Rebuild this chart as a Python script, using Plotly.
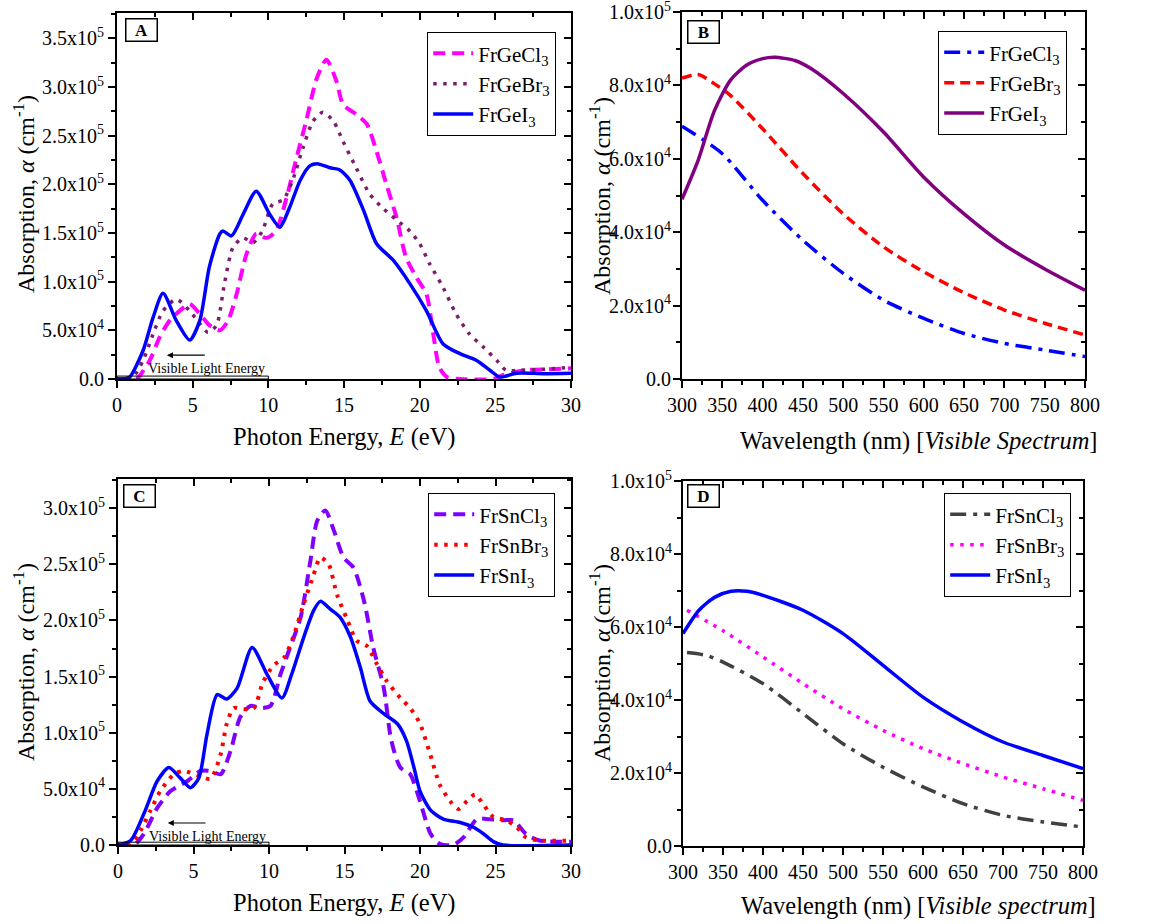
import plotly.graph_objects as go

# ---------------- Panel A : Fr-Ge halides, absorption vs photon energy ----------------
A_E_GeCl3 = [0, 1.0, 1.3, 2.16, 2.82, 3.48, 4.14, 4.8, 5.47, 6.13, 6.8, 7.34, 7.9, 8.55, 9.2, 9.87, 10.5,
             11.2, 11.86, 12.5, 13.2, 13.84, 14.5, 14.94, 15.8, 16.5, 17.15, 17.8, 18.47, 19.1, 19.8,
             20.45, 20.9, 21.3, 21.8, 22.66, 24.9, 25.5, 27.0, 28.5, 30.0]
A_GeCl3 = [0, 0, 0, 19, 43, 60, 70, 77, 67, 55, 50, 60, 87, 128, 149, 145, 152,
           186, 227, 265, 309, 328, 306, 282, 272, 262, 234, 200, 166, 125, 104,
           87, 46, 12, 2, 0, 0, 4, 9, 10, 11]

A_E_GeBr3 = [0, 0.6, 1.06, 1.72, 2.38, 3.04, 3.92, 4.8, 5.47, 6.0, 6.57, 7.1, 7.66, 8.33, 8.99, 9.6,
             10.3, 10.98, 11.6, 12.3, 12.96, 13.6, 14.3, 14.94, 15.8, 16.7, 17.6, 18.5, 19.35, 20.0,
             20.67, 21.55, 22.4, 23.3, 24.2, 25.1, 25.7, 26.6, 28.2, 30.0]
A_GeBr3 = [0, 0, 2, 19, 46, 70, 82, 70, 57, 48, 55, 98, 135, 145, 140, 152,
           180, 184, 204, 238, 265, 274, 265, 244, 217, 190, 175, 163, 152, 139,
           118, 94, 67, 46, 33, 19, 9, 9, 10, 12]

A_E_GeI3 = [0, 0.5, 0.84, 1.72, 2.38, 3.04, 3.92, 4.8, 5.47, 6.1, 6.79, 7.0, 7.56, 8.33, 9.2, 10.1,
            10.76, 11.4, 12.1, 12.74, 13.3, 14.06, 14.7, 15.4, 16.3, 17.15, 18.25, 19.35, 20.45,
            21.55, 22.66, 23.76, 24.64, 25.3, 26.4, 28.2, 30.0]
A_GeI3 = [0, 0.3, 2, 29, 63, 88, 60, 40, 60, 115, 149, 152, 147, 169, 193, 169,
          156, 176, 204, 219, 221, 217, 215, 204, 173, 139, 122, 98, 70,
          36, 26, 19, 9, 2, 6, 5.5, 6]

# ---------------- Panel B : Fr-Ge halides, visible spectrum ----------------
B_WL_GeCl3 = [300, 350, 400, 450, 500, 550, 600, 650, 700, 750, 800]
B_GeCl3 = [68.9, 61.4, 48.7, 37.8, 28.8, 21.5, 16.5, 12.4, 9.7, 7.9, 6.1]
B_WL_GeBr3 = [300, 320, 340, 360, 400, 450, 500, 550, 600, 650, 700, 750, 800]
B_GeBr3 = [82, 83, 80.5, 77.3, 68.2, 56, 45, 36, 29.2, 23.5, 18.8, 15.2, 12]
B_WL_GeI3 = [300, 320, 340, 360, 380, 400, 415, 440, 460, 500, 550, 600, 650, 700, 750, 800]
B_GeI3 = [49, 59.6, 73, 81.4, 85.5, 87.3, 87.7, 86.8, 84.6, 77.8, 67.3, 55, 45, 36.5, 30, 24.2]

# ---------------- Panel C : Fr-Sn halides, absorption vs photon energy ----------------
C_E_SnCl3 = [0, 1.06, 1.72, 2.6, 3.48, 4.6, 5.47, 6.13, 6.8, 7.46, 8.1, 8.77, 9.43, 10.1, 10.76,
             11.4, 12.1, 12.74, 13.2, 13.73, 14.3, 14.94, 15.6, 16.3, 16.9, 17.6, 18.1, 18.7,
             19.35, 20.0, 20.7, 21.3, 22.2, 22.9, 23.76, 24.6, 25.5, 26.2, 27.0, 27.9, 30.0]
C_SnCl3 = [0, 0, 10, 33, 48, 57, 66, 66, 63, 84, 114, 124, 122, 124, 152,
           176, 203, 253, 289, 298, 280, 256, 247, 217, 176, 140, 93, 69,
           63, 39, 10, 1, 0, 7, 23, 23, 22, 22, 10, 4, 3]

C_E_SnBr3 = [0, 0.84, 1.5, 2.16, 2.8, 3.7, 4.36, 5.25, 6.13, 6.8, 7.2, 7.66, 8.33, 9.0, 9.6, 10.3,
             11.0, 11.6, 12.3, 12.96, 13.4, 13.95, 14.5, 15.2, 15.8, 16.5, 17.15, 17.8, 18.7,
             19.35, 20.0, 20.67, 21.3, 22.0, 22.55, 23.1, 23.65, 24.2, 24.86, 25.7, 26.4, 27.0,
             27.9, 30.0]
C_SnBr3 = [0, 0, 13, 31, 48, 63, 66, 62, 59, 81, 108, 122, 121, 122, 145, 160,
           167, 185, 215, 241, 256, 250, 223, 200, 182, 177, 161, 146, 131,
           122, 108, 81, 54, 39, 32, 39, 45, 36, 25, 22, 16, 7,
           4, 4]

C_E_SnI3 = [0, 0.84, 1.72, 2.6, 3.37, 4.1, 4.8, 5.36, 5.9, 6.57, 7.2, 7.9, 8.88, 9.87, 10.86, 11.5,
            12.3, 12.96, 13.4, 14.06, 14.7, 15.4, 16.05, 16.7, 17.6, 18.5, 19.1, 19.6, 20.0, 20.7,
            21.55, 22.66, 23.5, 24.2, 24.86, 25.5, 30.0]
C_SnI3 = [0, 4, 28, 57, 69, 60, 51, 60, 99, 134, 130, 140, 176, 152, 131, 152,
          185, 209, 217, 210, 203, 185, 158, 128, 117, 108, 93, 69, 48, 31,
          23, 20, 16, 10, 3, 0, 0]

# ---------------- Panel D : Fr-Sn halides, visible spectrum ----------------
D_WL_SnCl3 = [305, 330, 350, 400, 450, 500, 550, 600, 650, 700, 750, 800]
D_SnCl3 = [53, 52.2, 50.4, 44.5, 36.3, 28, 21.6, 16.2, 11.6, 8.4, 6.6, 5.2]
D_WL_SnBr3 = [305, 350, 400, 450, 500, 550, 600, 650, 700, 750, 800]
D_SnBr3 = [64.6, 59, 51.8, 44.5, 37.6, 31.7, 26.7, 22.6, 18.9, 15.7, 12.5]
D_WL_SnI3 = [300, 320, 340, 360, 380, 400, 450, 500, 550, 600, 650, 700, 750, 800]
D_SnI3 = [58.2, 64.6, 68.2, 69.8, 69.8, 68.7, 64.6, 58.2, 49.5, 40.8, 34, 28.5, 24.8, 21.2]

# ---------------- tick labels ----------------
A_YTICKS = [0, 5e4, 1e5, 1.5e5, 2e5, 2.5e5, 3e5, 3.5e5]
A_YLABELS = ["0.0", "5.0x10<sup>4</sup>", "1.0x10<sup>5</sup>", "1.5x10<sup>5</sup>",
             "2.0x10<sup>5</sup>", "2.5x10<sup>5</sup>", "3.0x10<sup>5</sup>", "3.5x10<sup>5</sup>"]
C_YTICKS = [0, 5e4, 1e5, 1.5e5, 2e5, 2.5e5, 3e5]
C_YLABELS = A_YLABELS[:7]
BD_YTICKS = [0, 2e4, 4e4, 6e4, 8e4, 1e5]
BD_YLABELS = ["0.0", "2.0x10<sup>4</sup>", "4.0x10<sup>4</sup>", "6.0x10<sup>4</sup>",
              "8.0x10<sup>4</sup>", "1.0x10<sup>5</sup>"]

FONT = "Liberation Serif"
W, H = 1172, 924
K = 1e3

fig = go.Figure()


def add(x, y, name, color, dash, width, xa, ya, legend):
    fig.add_trace(go.Scatter(
        x=x, y=[v * K for v in y], name=name, mode="lines",
        line=dict(color=color, dash=dash, width=width, shape="spline", smoothing=0.7),
        xaxis=xa, yaxis=ya, legend=legend))


DASH = "12px,7px"
DOT = "3.5px,6.5px"
DASHDOT = "16px,7px,4px,7px"

add(A_E_GeCl3, A_GeCl3, "FrGeCl<sub>3</sub>", "#FF00FF", DASH, 4, "x", "y", "legend")
add(A_E_GeBr3, A_GeBr3, "FrGeBr<sub>3</sub>", "#7A1E6C", DOT, 3.5, "x", "y", "legend")
add(A_E_GeI3, A_GeI3, "FrGeI<sub>3</sub>", "#0000FF", "solid", 3.5, "x", "y", "legend")

add(B_WL_GeCl3, B_GeCl3, "FrGeCl<sub>3</sub>", "#0000FF", DASHDOT, 3.5, "x2", "y2", "legend2")
add(B_WL_GeBr3, B_GeBr3, "FrGeBr<sub>3</sub>", "#FF0000", "10px,6px", 3.5, "x2", "y2", "legend2")
add(B_WL_GeI3, B_GeI3, "FrGeI<sub>3</sub>", "#800080", "solid", 3.5, "x2", "y2", "legend2")

add(C_E_SnCl3, C_SnCl3, "FrSnCl<sub>3</sub>", "#7F00FF", DASH, 4, "x3", "y3", "legend3")
add(C_E_SnBr3, C_SnBr3, "FrSnBr<sub>3</sub>", "#FF0000", DOT, 4, "x3", "y3", "legend3")
add(C_E_SnI3, C_SnI3, "FrSnI<sub>3</sub>", "#0000FF", "solid", 3.5, "x3", "y3", "legend3")

add(D_WL_SnCl3, D_SnCl3, "FrSnCl<sub>3</sub>", "#404040", DASHDOT, 3.5, "x4", "y4", "legend4")
add(D_WL_SnBr3, D_SnBr3, "FrSnBr<sub>3</sub>", "#FF00FF", DOT, 3.5, "x4", "y4", "legend4")
add(D_WL_SnI3, D_SnI3, "FrSnI<sub>3</sub>", "#0000FF", "solid", 3.5, "x4", "y4", "legend4")

# dummy traces for mirrored (top/right) axes
for i in range(5, 9):
    fig.add_trace(go.Scatter(x=[], y=[], xaxis=f"x{i}", yaxis=f"y{i}",
                             showlegend=False, hoverinfo="skip"))

panels = [
    # xdomain, ydomain, xrange, xdtick, xminor, yrange, ytickvals, yticktext, yminor, ylabel standoff
    ([117 / W, 571 / W], [1 - 379 / H, 1 - 13 / H], [0, 30], 5, 2.5, [0, 3.76e5], A_YTICKS, A_YLABELS, 2.5e4, 0),
    ([682 / W, 1085 / W], [1 - 379 / H, 1 - 12 / H], [300, 800], 50, 25, [0, 1.0002e5], BD_YTICKS, BD_YLABELS, 1e4, -2),
    ([118 / W, 571 / W], [1 - 845 / H, 1 - 479 / H], [0, 30], 5, 2.5, [0, 3.26e5], C_YTICKS, C_YLABELS, 2.5e4, 0),
    ([683 / W, 1083 / W], [1 - 846 / H, 1 - 481 / H], [300, 800], 50, 25, [0, 1.0002e5], BD_YTICKS, BD_YLABELS, 1e4, -2),
]

tickfont = dict(family=FONT, size=20, color="black")
lay = {}
for i, (xd, yd, xr, xdt, xmn, yr, ytv, ytt, ymn, ystand) in enumerate(panels, start=1):
    s = "" if i == 1 else str(i)
    lay[f"xaxis{s}"] = dict(domain=xd, range=xr, anchor=f"y{s}", dtick=xdt, tick0=xr[0],
                           ticks="outside", ticklen=7, tickwidth=2, tickcolor="black",
                           minor=dict(ticks="outside", ticklen=4, tickwidth=1.5, dtick=xmn, tickcolor="black"),
                           showline=True, linewidth=2, linecolor="black", showgrid=False,
                           zeroline=False, tickfont=tickfont, automargin=False,
                           ticklabeloverflow="allow")
    lay[f"yaxis{s}"] = dict(domain=yd, range=yr, anchor=f"x{s}", tickvals=ytv, ticktext=ytt,
                           ticks="outside", ticklen=7, tickwidth=2, tickcolor="black",
                           minor=dict(ticks="outside", ticklen=4, tickwidth=1.5, dtick=ymn,
                                      tick0=0, tickcolor="black"),
                           showline=True, linewidth=2, linecolor="black", showgrid=False,
                           zeroline=False, tickfont=tickfont, automargin=False,
                           ticklabeloverflow="allow", ticklabelstandoff=ystand)
    j = i + 4
    lay[f"xaxis{j}"] = dict(overlaying=f"x{s}", side="top", anchor=f"y{s}", range=xr, dtick=xdt,
                           tick0=xr[0], ticks="inside", ticklen=7, tickwidth=2, tickcolor="black",
                           minor=dict(ticks="inside", ticklen=4, tickwidth=1.5, dtick=xmn, tickcolor="black"),
                           showticklabels=False, showline=True, linewidth=2, linecolor="black",
                           showgrid=False, zeroline=False, automargin=False)
    lay[f"yaxis{j}"] = dict(overlaying=f"y{s}", side="right", anchor=f"x{s}", range=yr, tickvals=ytv,
                           ticks="inside", ticklen=7, tickwidth=2, tickcolor="black",
                           minor=dict(ticks="inside", ticklen=4, tickwidth=1.5, dtick=ymn, tick0=0,
                                      tickcolor="black"),
                           showticklabels=False, showline=True, linewidth=2, linecolor="black",
                           showgrid=False, zeroline=False, automargin=False)

leg_common = dict(bgcolor="white", bordercolor="black", borderwidth=1.2,
                  font=dict(family=FONT, size=21, color="black"), xanchor="right", yanchor="top",
                  tracegroupgap=0, itemwidth=40)
lay["legend"] = dict(x=556 / W, y=1 - 32 / H, **leg_common)
lay["legend2"] = dict(x=1067 / W, y=1 - 31 / H, **leg_common)
lay["legend3"] = dict(x=555 / W, y=1 - 493 / H, **leg_common)
lay["legend4"] = dict(x=1071 / W, y=1 - 493 / H, **leg_common)

fig.update_layout(width=W, height=H, margin=dict(l=0, r=0, t=0, b=0),
                  plot_bgcolor="white", paper_bgcolor="white",
                  font=dict(family=FONT, color="black"), **lay)

xtitle_font = dict(family=FONT, size=24.5, color="black")
ytitle_font = dict(family=FONT, size=24, color="black")
ytitle = "Absorption, <i>α</i> (cm<sup>-1</sup>)"
ann = [
    dict(text="Photon Energy, <i>E</i> (eV)", x=344 / W, y=1 - 437 / H, font=xtitle_font),
    dict(text="Wavelength (nm) [<i>Visible Spectrum</i>]", x=919 / W, y=1 - 441 / H, font=xtitle_font),
    dict(text="Photon Energy, <i>E</i> (eV)", x=344 / W, y=1 - 903 / H, font=xtitle_font),
    dict(text="Wavelength (nm) [<i>Visible spectrum</i>]", x=918 / W, y=1 - 906 / H, font=xtitle_font),
    dict(text=ytitle, x=24 / W, y=1 - 194 / H, textangle=-90, font=ytitle_font),
    dict(text=ytitle, x=600 / W, y=1 - 196 / H, textangle=-90, font=ytitle_font),
    dict(text=ytitle, x=24 / W, y=1 - 662 / H, textangle=-90, font=ytitle_font),
    dict(text=ytitle, x=600 / W, y=1 - 663 / H, textangle=-90, font=ytitle_font),
]
for a in ann:
    fig.add_annotation(xref="paper", yref="paper", showarrow=False,
                       xanchor="center", yanchor="middle", **a)

# panel labels
for lab, x, y in [("A", 125, 18), ("B", 687, 20), ("C", 123, 484), ("D", 687, 484)]:
    fig.add_annotation(text=f"<b>{lab}</b>", xref="paper", yref="paper", x=x / W, y=1 - y / H,
                       xanchor="left", yanchor="top", showarrow=False, bgcolor="white",
                       bordercolor="black", borderwidth=1.5, borderpad=2, width=26, height=17,
                       font=dict(family=FONT, size=17, color="black"))

# "Visible Light Energy" arrows and labels
for xa, ya, yarrow, ytext in [("x", "y", 24.5e3, 11e3), ("x3", "y3", 19.6e3, 8e3)]:
    fig.add_annotation(x=3.3, y=yarrow, ax=5.9, ay=yarrow, xref=xa, yref=ya, axref=xa, ayref=ya,
                       text="", showarrow=True, arrowhead=2, arrowsize=1, arrowwidth=1.2,
                       arrowcolor="black")
    fig.add_annotation(x=1.9, y=ytext, xref=xa, yref=ya, text="Visible Light Energy",
                       showarrow=False, xanchor="left", yanchor="middle",
                       font=dict(family=FONT, size=14, color="black"))

fig.add_shape(type="rect", xref="x", yref="y", x0=0, x1=10, y0=0, y1=3e3,
              line=dict(color="black", width=1))
fig.add_shape(type="rect", xref="x3", yref="y3", x0=0, x1=10, y0=0, y1=2.5e3,
              line=dict(color="black", width=1))

fig.write_html("out.html", config={"displayModeBar": False},
               post_script="document.body.style.margin='0';document.body.style.overflow='hidden';")
